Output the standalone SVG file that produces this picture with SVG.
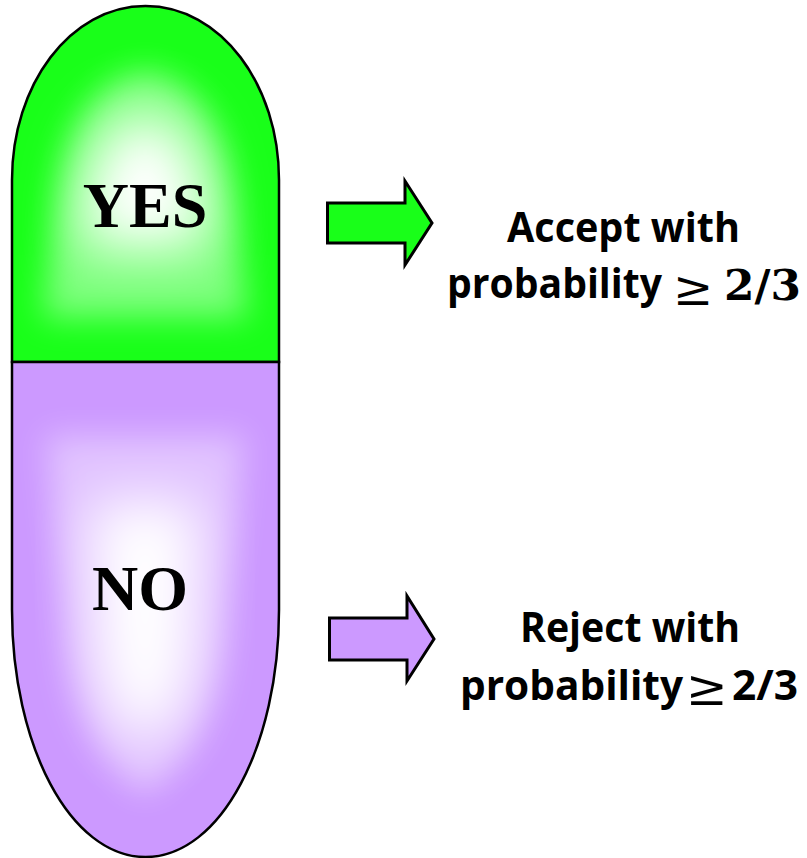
<svg xmlns="http://www.w3.org/2000/svg" width="807" height="858" viewBox="0 0 807 858">
<style>
.o{stroke:#000;stroke-width:2.500;fill:none}
.a{stroke:#000;stroke-width:3}
.l{font-family:"Liberation Serif","Times New Roman",serif;font-weight:bold;font-size:64px;fill:#000;text-anchor:middle}
.t{font-family:"Open Sans",Lato,sans-serif;font-weight:bold;font-size:41px;fill:#000}
.m{font-family:"DejaVu Serif","Liberation Serif",serif;fill:#000}
</style>
<defs>
<clipPath id="ct"><path d="M12 362V180C12 85 70 6 145.500 6S279 85 279 180V362Z"/></clipPath>
<clipPath id="cb"><path d="M12 362V610C12 745 70 857 145.500 857S279 745 279 610V362Z"/></clipPath>
<filter id="b1" x="-50%" y="-50%" width="200%" height="200%"><feGaussianBlur stdDeviation="16"/></filter>
<filter id="b2" x="-50%" y="-50%" width="200%" height="200%"><feGaussianBlur stdDeviation="28"/></filter>
</defs>
<g id="yes">
<g clip-path="url(#ct)">
<rect x="12" y="6" width="267" height="356" fill="#19ff19"/>
<path d="M145 70Q215 85 230 190L248 318H42L60 190Q75 85 145 70Z" fill="#fff" opacity=".42" filter="url(#b1)"/>
<path d="M145 110Q195 125 205 190L210 250H80L85 190Q95 125 145 110Z" fill="#fff" filter="url(#b2)"/>
</g>
<path class="o" d="M12 362V180C12 85 70 6 145.500 6S279 85 279 180V362Z"/>
<text class="l" x="145" y="227">YES</text>
</g>
<g id="no">
<g clip-path="url(#cb)">
<rect x="12" y="362" width="267" height="495" fill="#cc99ff"/>
<path d="M45 435H245L225 620Q215 750 145 795Q75 750 65 620Z" fill="#fff" opacity=".4" filter="url(#b1)"/>
<path d="M90 500H200L195 640Q190 720 145 745Q100 720 95 640Z" fill="#fff" filter="url(#b2)"/>
</g>
<path class="o" d="M12 362V610C12 745 70 857 145.500 857S279 745 279 610V362Z"/>
<text class="l" x="140" y="610">NO</text>
</g>
<g id="connectors">
<path class="a" fill="#19ff19" d="M327.500 203H405V181L432 223L405 265V243H327.500Z"/>
<path class="a" fill="#cc99ff" d="M329.500 618H407V596L434 639L407 681V660H329.500Z"/>
</g>
<g id="accept">
<text class="t" x="507" y="242" textLength="233" lengthAdjust="spacingAndGlyphs">Accept with</text>
<text class="t" x="447" y="298" textLength="215" lengthAdjust="spacingAndGlyphs">probability</text>
<text class="m" x="673" y="305" font-size="48">≥</text>
<text class="m" x="724" y="300" font-size="42" font-weight="bold" textLength="77" lengthAdjust="spacingAndGlyphs">2/3</text>
</g>
<g id="reject">
<text class="t" x="520" y="642" textLength="220" lengthAdjust="spacingAndGlyphs">Reject with</text>
<text class="t" x="460" y="700" textLength="223" lengthAdjust="spacingAndGlyphs">probability</text>
<text class="m" x="686" y="705" font-size="50">≥</text>
<text class="t" x="732" y="700" textLength="66" lengthAdjust="spacingAndGlyphs">2/3</text>
</g>
</svg>
